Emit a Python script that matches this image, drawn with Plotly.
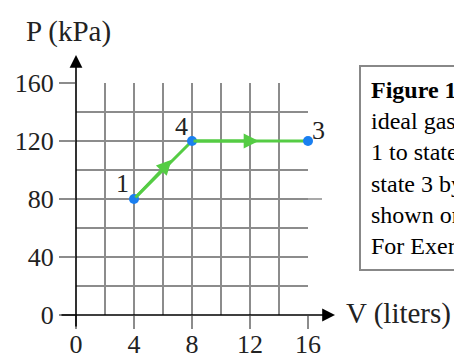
import plotly.graph_objects as go

# ---- data ----
V = [4, 8, 16]              # liters
P = [80, 120, 120]          # kPa
state_labels = ["1", "4", "3"]
arrow_tail_V = [4, 8]
arrow_tail_P = [80, 120]
arrow_head_V = [6.6, 12.6]
arrow_head_P = [107, 120]
x_ticks = [0, 4, 8, 12, 16]
y_ticks = [0, 40, 80, 120, 160]

FONT = "Liberation Serif, Times New Roman, serif"
GRID = "#8c8c8c"
GREEN = "#55cc44"
BLUE = "#1a7ff0"

# the page body has an 8px margin; work in window pixels and shift
OFF = 8
W, H = 462 - OFF, 358 - OFF
# plot area in window px: x 76..308, y 83..315
L, T = 76 - OFF, 83 - OFF
R, B = W - (308 - OFF), H - (315 - OFF)
pw, ph = W - L - R, H - T - B

def px_x(px):
    return (px - OFF - L) / pw

def px_y(py):
    return (H - B - (py - OFF)) / ph

fig = go.Figure()

fig.add_trace(go.Scatter(
    x=V, y=P, mode="lines",
    line=dict(color=GREEN, width=3),
    hoverinfo="skip", showlegend=False, cliponaxis=False,
))
fig.add_trace(go.Scatter(
    x=V, y=P, mode="markers",
    marker=dict(color=BLUE, size=10),
    hoverinfo="skip", showlegend=False, cliponaxis=False,
))

annotations = []
# direction arrows on the path
for tx, ty, hx, hy in zip(arrow_tail_V, arrow_tail_P, arrow_head_V, arrow_head_P):
    annotations.append(dict(
        x=hx, y=hy, ax=tx, ay=ty, xref="x", yref="y", axref="x", ayref="y",
        text="", showarrow=True, arrowhead=2, arrowsize=1.0, arrowwidth=3,
        arrowcolor=GREEN, standoff=0, startstandoff=0,
    ))
# state labels
shifts = {"1": (-12, 16), "4": (-11, 15), "3": (10, 11)}
for v, p, s in zip(V, P, state_labels):
    dx, dy = shifts[s]
    annotations.append(dict(
        x=v, y=p, xref="x", yref="y", text=s, showarrow=False,
        xshift=dx, yshift=dy, font=dict(family=FONT, size=26, color="#222"),
    ))
# axis arrows
annotations.append(dict(
    x=px_x(335), y=0, xref="paper", yref="paper", ax=-(335 - 60), ay=0,
    text="", showarrow=True, arrowhead=2, arrowsize=1.6, arrowwidth=1.6,
    arrowcolor="black", standoff=0,
))
annotations.append(dict(
    x=0, y=px_y(55), xref="paper", yref="paper", ax=0, ay=(328 - 55),
    text="", showarrow=True, arrowhead=2, arrowsize=1.6, arrowwidth=1.6,
    arrowcolor="black", standoff=0,
))
# axis titles
annotations.append(dict(
    x=px_x(24), y=px_y(32), xref="paper", yref="paper", xanchor="left", yanchor="middle",
    text="P (kPa)", showarrow=False, font=dict(family=FONT, size=29, color="#222"),
))
annotations.append(dict(
    x=px_x(344), y=px_y(313), xref="paper", yref="paper", xanchor="left", yanchor="middle",
    text="V (liters)", showarrow=False, font=dict(family=FONT, size=29, color="#222"),
))
# caption box (cut off by the window edge)
caption = ("<b>Figure 1</b> An<br>ideal gas goes from state<br>1 to state 4 and then to<br>"
           "state 3 by the process<br>shown on the PV diagram.<br>For Exercise 1.")
annotations.append(dict(
    x=px_x(359), y=px_y(65), xref="paper", yref="paper", xanchor="left", yanchor="top",
    text=caption, align="left", showarrow=False,
    font=dict(family=FONT, size=24, color="black"),
    bordercolor="#888888", borderwidth=2, borderpad=10, bgcolor="white",
))

shapes = [
    dict(type="line", xref="paper", yref="paper", x0=1, x1=px_x(322), y0=0.5, y1=0.5,
         line=dict(color=GRID, width=1.5)),
]

fig.update_layout(
    width=W, height=H,
    margin=dict(l=L, r=R, t=T, b=B, autoexpand=False),
    paper_bgcolor="white", plot_bgcolor="white",
    annotations=annotations, shapes=shapes,
    font=dict(family=FONT, color="#222"),
    xaxis=dict(
        range=[0, 16], tickvals=x_ticks, ticktext=[str(t) for t in x_ticks],
        showgrid=True, gridcolor=GRID, gridwidth=1.5,
        ticks="outside", ticklen=13, tickwidth=1.5, tickcolor=GRID,
        ticklabelstandoff=-7,
        minor=dict(dtick=2, showgrid=True, gridcolor=GRID, gridwidth=1.5, ticks=""),
        showline=False, zeroline=False, fixedrange=True, automargin=False,
        tickfont=dict(family=FONT, size=26, color="#222"),
    ),
    yaxis=dict(
        range=[0, 160], tickvals=y_ticks, ticktext=[str(t) for t in y_ticks],
        showgrid=True, gridcolor=GRID, gridwidth=1.5,
        ticks="outside", ticklen=16, tickwidth=1.5, tickcolor=GRID,
        minor=dict(dtick=20, showgrid=True, gridcolor=GRID, gridwidth=1.5, ticks=""),
        showline=False, zeroline=False, fixedrange=True, automargin=False,
        tickfont=dict(family=FONT, size=26, color="#222"),
    ),
)

fig.write_html("out.html", config={"displayModeBar": False})
